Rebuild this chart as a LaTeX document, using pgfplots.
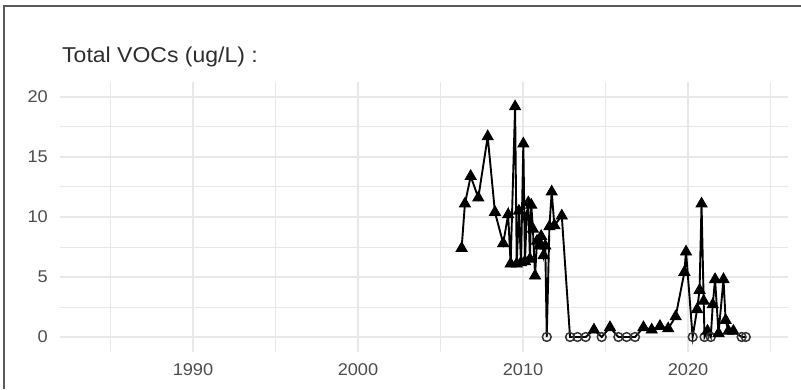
\documentclass[border=0pt]{standalone}
\usepackage{fontspec}
\setmainfont{Liberation Sans}[FakeStretch=1.07]
\usepackage{pgfplots}
\pgfplotsset{compat=1.18}
\usepackage{pgfplotstable}
\definecolor{gridc}{HTML}{E8E8E8}
\definecolor{tickc}{HTML}{4D4D4D}
\definecolor{titlec}{HTML}{2E2E2E}
\definecolor{framec}{HTML}{5A5A5A}
\definecolor{ndc}{HTML}{333333}

\pgfplotstableread{
year val cls
2006.28 7.4 d
2006.48 11.1 d
2006.83 13.4 d
2007.29 11.6 d
2007.86 16.7 d
2008.30 10.4 d
2008.80 7.8 d
2009.10 10.2 d
2009.25 6.1 d
2009.52 19.2 d
2009.62 6.1 d
2009.75 10.5 d
2009.88 6.2 d
2010.02 16.1 d
2010.12 6.3 d
2010.22 10.0 d
2010.32 11.2 d
2010.42 6.5 d
2010.50 11.0 d
2010.60 9.0 d
2010.73 5.1 d
2010.85 8.0 d
2010.98 7.6 d
2011.10 8.4 d
2011.25 6.8 d
2011.35 7.6 d
2011.44 0 n
2011.60 9.2 d
2011.74 12.1 d
2011.90 9.3 d
2012.35 10.1 d
2012.85 0 n
2013.30 0 n
2013.80 0 n
2014.30 0.6 d
2014.77 0 n
2015.27 0.8 d
2015.78 0 n
2016.28 0 n
2016.79 0 n
2017.30 0.8 d
2017.80 0.6 d
2018.30 0.9 d
2018.80 0.7 d
2019.25 1.7 d
2019.78 5.4 d
2019.88 7.1 d
2020.28 0 n
2020.55 2.3 d
2020.70 3.9 d
2020.82 11.1 d
2020.95 3.0 d
2021.00 0 n
2021.18 0.5 d
2021.38 0 n
2021.50 2.7 d
2021.64 4.8 d
2021.85 0.3 d
2022.15 4.8 d
2022.28 1.4 d
2022.45 0.5 d
2022.75 0.5 d
2023.25 0 n
2023.50 0 n
}\voc

\begin{document}
\begin{tikzpicture}[x=1pt,y=1pt]
\useasboundingbox (0,0) rectangle (801,389);
\draw[framec, line width=2pt] (4,0) -- (4,383) -- (801,383);
\node[anchor=base west, inner sep=0pt, text=titlec, font=\fontsize{21.5}{26}\selectfont] at (62,326.5) {Total VOCs (ug/L) :};
\begin{axis}[
  at={(60pt,37pt)}, anchor=south west,
  scale only axis, width=728pt, height=270pt,
  xmin=1981.94, xmax=2026.06, ymin=-1.25, ymax=21.25,
  axis line style={draw=none},
  major tick length=0pt, minor tick length=0pt,
  xtick={1990,2000,2010,2020},
  minor xtick={1985,1995,2005,2015,2025},
  ytick={0,5,10,15,20},
  minor ytick={2.5,7.5,12.5,17.5},
  grid=both,
  major grid style={gridc, line width=2pt},
  minor grid style={gridc, line width=1pt},
  /pgf/number format/assume math mode=true,
  /pgf/number format/set thousands separator={},
  xticklabel style={font=\fontsize{17}{20}\selectfont, text=tickc, anchor=north, inner sep=0pt, yshift=-11pt},
  yticklabel style={font=\fontsize{17}{20}\selectfont, text=tickc, anchor=east, inner sep=0pt, xshift=-12pt},
]
\addplot[black, line width=1.9pt, scatter, scatter src=explicit symbolic,
  scatter/classes={
    d={mark=triangle*, mark size=6.4pt, draw=black, fill=black, line width=0.8pt},
    n={mark=o, mark size=4.4pt, draw=ndc, line width=1.5pt}}]
  table[x=year, y=val, meta=cls] {\voc};
\end{axis}
\end{tikzpicture}
\end{document}
